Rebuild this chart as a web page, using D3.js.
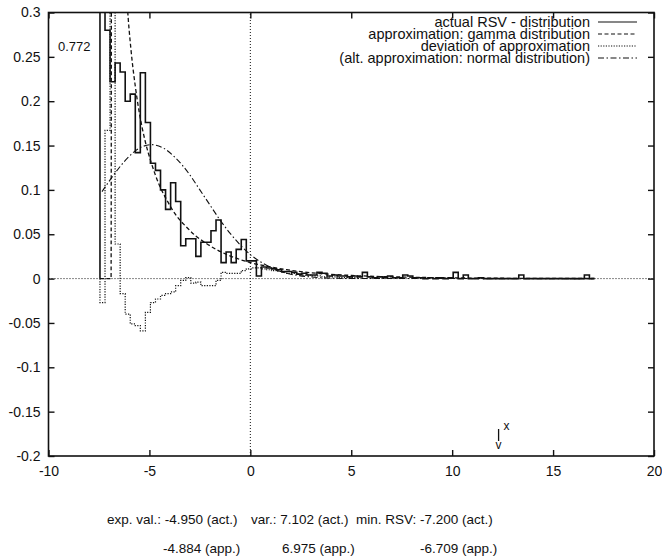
<!DOCTYPE html>
<html>
<head>
<meta charset="utf-8">
<script src="https://cdn.jsdelivr.net/npm/d3@7"></script>
<style>
body { margin: 0; background: #fff; }
text { font-family: "Liberation Sans", Arial, sans-serif; fill: #111; }
</style>
</head>
<body>
<script>
// actual RSV histogram, bins of 0.25 starting at -7.45
var binStart = -7.45;
var binWidth = 0.25;
var actual = [0.772, 0.28, 0.222, 0.243, 0.233, 0.2, 0.208, 0.142, 0.232, 0.176,
  0.13, 0.122, 0.1, 0.078, 0.108, 0.087, 0.037, 0.045, 0.045, 0.025,
  0.041, 0.041, 0.054, 0.066, 0.018, 0.03, 0.018, 0.033, 0.044, 0.02,
  0.02, 0.003, 0.013, 0.012, 0.011, 0.01, 0.008, 0.008, 0.007, 0.005,
  0.006, 0.004, 0.004, 0.007, 0.006, 0.003, 0.004, 0.003, 0.003, 0.002,
  0.003, 0.002, 0.007, 0.002, 0.001, 0.002, 0.001, 0.003, 0.001, 0.001,
  0.004, 0.003, 0.001, 0.001, 0, 0.001, 0, 0.001, 0, 0.001,
  0.007, 0, 0.004, 0, 0, 0.001, 0, 0, 0, 0,
  0, 0, 0, 0.004, 0, 0, 0, 0, 0, 0,
  0, 0, 0, 0, 0, 0, 0.004, 0];
// deviation of approximation, same bins
var deviation = [-0.027, 0.167, 0.5, 0.039, -0.017, -0.04, -0.051, -0.053, -0.059, -0.038,
  -0.027, -0.023, -0.019, -0.017, -0.015, -0.008, -0.002, 0.001, -0.005, -0.004,
  -0.008, -0.008, -0.008, -0.002, 0.007, 0.006, 0.006, 0.006, 0.009, 0.011,
  0.012, 0.012, 0.011, 0.01, 0.009, 0.008, 0.007, 0.006, 0.006, 0.005,
  0.004, 0.004, 0.003, 0.003, 0.002, 0.002, 0.002, 0.001, 0.001, 0.001, 0.001];
// gamma approximation
var gammaX = [-7.45, -6.9, -6.85, -6.7, -6.55, -6.4, -6.25, -6.1, -5.9, -5.7, -5.5, -5.2, -4.9, -4.5, -4.1,
  -3.7, -3.2, -2.7, -2.2, -1.7, -1.2, -0.7, 0, 0.8, 1.8, 3.3, 5.3, 8.3, 13.3, 17.05];
var gammaY = [0, 0, 1.5, 1.2, 0.7, 0.48, 0.376, 0.31, 0.255, 0.217, 0.187, 0.154, 0.13, 0.105, 0.087,
  0.072, 0.059, 0.048, 0.04, 0.033, 0.0275, 0.023, 0.018, 0.014, 0.01, 0.006, 0.0033, 0.0014, 0.0003, 0.0001];
// alt. approximation: normal distribution
var normalX = [-7.35, -6.5, -6, -5.5, -4.9, -4.3, -3.7, -3, -2.5, -2, -1.5, -1, -0.5, 0, 0.5, 1, 1.5, 2, 3, 4, 5, 17.05];
var normalY = [0.098, 0.125, 0.138, 0.147, 0.151, 0.147, 0.136, 0.117, 0.1, 0.083, 0.066, 0.051, 0.038, 0.027,
  0.019, 0.0126, 0.008, 0.005, 0.0018, 0.0005, 0.0001, 0];

var xTicks = [-10, -5, 0, 5, 10, 15, 20];
var yTicks = [0.3, 0.25, 0.2, 0.15, 0.1, 0.05, 0, -0.05, -0.1, -0.15, -0.2];
var legendLabels = ["actual RSV - distribution", "approximation: gamma distribution",
  "deviation of approximation", "(alt. approximation: normal distribution)"];
var peakLabel = "0.772";
var markerX = 12.3;
var statsAct = ["exp. val.: -4.950 (act.)", "var.: 7.102 (act.)", "min. RSV: -7.200 (act.)"];
var statsApp = ["-4.884 (app.)", "6.975 (app.)", "-6.709 (app.)"];

var svg = d3.select("body").append("svg")
  .attr("width", 662)
  .attr("height", 557);

var x = d3.scaleLinear().domain([-10, 20]).range([48.5, 654]);
var y = d3.scaleLinear().domain([-0.2, 0.3]).range([456, 12.5]);

svg.append("clipPath").attr("id", "plot")
  .append("rect")
  .attr("x", x(-10)).attr("y", y(0.3))
  .attr("width", x(20) - x(-10)).attr("height", y(-0.2) - y(0.3));

var plot = svg.append("g").attr("clip-path", "url(#plot)");

// zero lines
plot.append("line")
  .attr("x1", x(-10)).attr("x2", x(20)).attr("y1", y(0)).attr("y2", y(0))
  .attr("stroke", "#111").attr("stroke-width", 1).attr("stroke-dasharray", "1,2");
plot.append("line")
  .attr("x1", x(0)).attr("x2", x(0)).attr("y1", y(-0.2)).attr("y2", y(0.3))
  .attr("stroke", "#111").attr("stroke-width", 1).attr("stroke-dasharray", "1,2");

function stepPoints(vals) {
  var pts = [[binStart, 0]];
  vals.forEach(function(v, i) {
    pts.push([binStart + i * binWidth, v]);
    pts.push([binStart + (i + 1) * binWidth, v]);
  });
  pts.push([binStart + vals.length * binWidth, 0]);
  return pts;
}

var line = d3.line().x(d => x(d[0])).y(d => y(d[1]));
var smooth = d3.line().x(d => x(d[0])).y(d => y(d[1])).curve(d3.curveMonotoneX);

// deviation (dotted)
plot.append("path")
  .attr("d", line(stepPoints(deviation)))
  .attr("fill", "none").attr("stroke", "#111").attr("stroke-width", 1.2)
  .attr("stroke-dasharray", "1.2,1.4");

// normal (dash-dot)
plot.append("path")
  .attr("d", smooth(normalX.map((v, i) => [v, normalY[i]])))
  .attr("fill", "none").attr("stroke", "#111").attr("stroke-width", 1.1)
  .attr("stroke-dasharray", "6,2.5,1.5,2.5");

// gamma (dashed)
plot.append("path")
  .attr("d", smooth(gammaX.map((v, i) => [v, gammaY[i]])))
  .attr("fill", "none").attr("stroke", "#111").attr("stroke-width", 1.3)
  .attr("stroke-dasharray", "4,2.5");

// actual histogram (solid)
plot.append("path")
  .attr("d", line(stepPoints(actual)))
  .attr("fill", "none").attr("stroke", "#111").attr("stroke-width", 1.6);

// axes, ticks inside the frame
var axB = svg.append("g").attr("transform", `translate(0,${y(-0.2)})`)
  .call(d3.axisBottom(x).tickValues(xTicks).tickSize(-6).tickPadding(10).tickFormat(d => String(d)));
var axT = svg.append("g").attr("transform", `translate(0,${y(0.3)})`)
  .call(d3.axisTop(x).tickValues(xTicks).tickSize(-6).tickFormat(""));
var axL = svg.append("g").attr("transform", `translate(${x(-10)},0)`)
  .call(d3.axisLeft(y).tickValues(yTicks).tickSize(-6).tickPadding(8).tickFormat(d => String(d)));
var axR = svg.append("g").attr("transform", `translate(${x(20)},0)`)
  .call(d3.axisRight(y).tickValues(yTicks).tickSize(-6).tickFormat(""));

[axB, axT, axL, axR].forEach(function(g) {
  g.select(".domain").remove();
  g.selectAll(".tick line").attr("stroke", "#111").attr("stroke-width", 1.4);
  g.selectAll(".tick text").attr("font-size", 14).attr("font-family", null).attr("fill", "#111");
});

// frame
svg.append("rect")
  .attr("x", x(-10)).attr("y", y(0.3))
  .attr("width", x(20) - x(-10)).attr("height", y(-0.2) - y(0.3))
  .attr("fill", "none").attr("stroke", "#111").attr("stroke-width", 1.6);

// legend
var dashes = [null, "4,2.5", "1.2,1.4", "6,2.5,1.5,2.5"];
legendLabels.forEach(function(lbl, i) {
  var ly = 22 + i * 12;
  svg.append("text").attr("x", 590).attr("y", ly + 5)
    .attr("text-anchor", "end").attr("font-size", 14.5).text(lbl);
  svg.append("line").attr("x1", 598).attr("x2", 637).attr("y1", ly).attr("y2", ly)
    .attr("stroke", "#111").attr("stroke-width", 1.1)
    .attr("stroke-dasharray", dashes[i]);
});

svg.append("text").attr("x", 58).attr("y", 51).attr("font-size", 13).text(peakLabel);

// marker near the x axis
var mx = x(markerX);
svg.append("line").attr("x1", mx).attr("x2", mx).attr("y1", 429).attr("y2", 441)
  .attr("stroke", "#111").attr("stroke-width", 1.3);
svg.append("text").attr("x", mx).attr("y", 449).attr("text-anchor", "middle")
  .attr("font-size", 12).text("v");
svg.append("text").attr("x", mx + 5).attr("y", 430).attr("font-size", 12).text("x");

// statistics below the chart
var statX1 = [107, 251, 356];
var statX2 = [163, 282, 420];
statsAct.forEach(function(s, i) {
  svg.append("text").attr("x", statX1[i]).attr("y", 524).attr("font-size", 13.5).text(s);
});
statsApp.forEach(function(s, i) {
  svg.append("text").attr("x", statX2[i]).attr("y", 553).attr("font-size", 13.5).text(s);
});
</script>
</body>
</html>
